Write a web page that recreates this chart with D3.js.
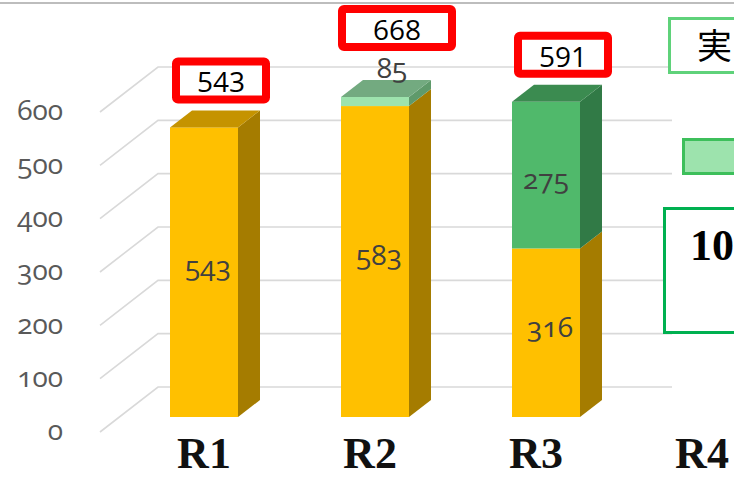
<!DOCTYPE html>
<html>
<head>
<meta charset="utf-8">
<script src="https://cdn.jsdelivr.net/npm/d3@7"></script>
<style>
  html, body { margin: 0; padding: 0; background: #fff; }
  svg { display: block; }
</style>
</head>
<body>
<div id="chart"></div>
<script>
// Chart data
const categories = ["R1", "R2", "R3", "R4"];
const baseValues = [543, 583, 316, null];   // yellow segment
const topValues = [0, 17, 275, null];       // green segment as drawn
const topLabels = [null, 85, 275, null];    // green segment label text
const totalLabels = [543, 668, 591, null];  // red annotation boxes
const yTicks = [0, 100, 200, 300, 400, 500, 600];

const width = 734, height = 478;

const svg = d3.select("#chart")
  .append("svg")
  .attr("width", width)
  .attr("height", height);

// Scales
const x = d3.scalePoint().domain(categories).range([204, 717]);
const y = d3.scaleLinear().domain([0, 600]).range([417, 97]);
// category labels sit a little off the bar centres (perspective)
const xLabel = d3.scalePoint().domain(categories).range([204, 702]);

const barW = 68;
const depth = { dx: 22, dy: -17 };      // bar depth
const wallBack = { dx: 58, dy: -45 };   // back wall offset from front floor
const wallLeft = 100;
const gridEnd = 672;

const yFront = v => y(v) + 15;
const yBack = v => y(v) - 30;

// Top frame line
svg.append("line")
  .attr("x1", 0).attr("x2", width)
  .attr("y1", 3).attr("y2", 3)
  .attr("stroke", "#bdbdbd")
  .attr("stroke-width", 2);

// Gridlines (side wall diagonal + back wall horizontal)
const grid = svg.append("g").attr("class", "grid");
grid.selectAll("path")
  .data(yTicks)
  .enter().append("path")
  .attr("d", d => `M${wallLeft},${yFront(d)} L${wallLeft + wallBack.dx},${yBack(d)} L${gridEnd},${yBack(d)}`)
  .attr("fill", "none")
  .attr("stroke", "#d9d9d9")
  .attr("stroke-width", 1.6);

// Y axis labels
svg.append("g")
  .selectAll("text")
  .data(yTicks)
  .enter().append("text")
  .attr("x", 63)
  .attr("y", d => yFront(d))
  .attr("dy", "0.3em")
  .attr("text-anchor", "end")
  .style("font-family", "'Open Sans', sans-serif")
  .style("font-variant-numeric", "oldstyle-nums")
  .style("font-size", "28px")
  .style("fill", "#595959")
  .text(d => d);

// Colors
const yellow = { front: "#FFC000", side: "#A57C00", top: "#C59300" };
const green = { front: "#50B96B", side: "#317A46", top: "#3B8B50" };
const lightGreen = { front: "#9DE3AD", side: "#5F9A6B", top: "#73AA80" };

// Build segments
const bars = svg.append("g").attr("class", "bars");

categories.forEach((cat, i) => {
  if (baseValues[i] == null) return;
  const x0 = x(cat) - barW / 2;
  const x1 = x0 + barW;
  const segs = [
    { from: 0, to: baseValues[i], c: yellow },
    { from: baseValues[i], to: baseValues[i] + topValues[i], c: topValues[i] < 50 ? lightGreen : green }
  ].filter(s => s.to > s.from);

  const g = bars.append("g");
  segs.forEach((s, k) => {
    const yb = y(s.from), yt = y(s.to);
    // front face
    g.append("rect")
      .attr("x", x0).attr("y", yt)
      .attr("width", barW).attr("height", yb - yt)
      .attr("fill", s.c.front);
    // side face
    g.append("path")
      .attr("d", `M${x1},${yb} L${x1 + depth.dx},${yb + depth.dy} L${x1 + depth.dx},${yt + depth.dy} L${x1},${yt} Z`)
      .attr("fill", s.c.side);
    // top face on last segment
    if (k === segs.length - 1) {
      g.append("path")
        .attr("d", `M${x0},${yt} L${x1},${yt} L${x1 + depth.dx},${yt + depth.dy} L${x0 + depth.dx},${yt + depth.dy} Z`)
        .attr("fill", s.c.top);
    }
  });

  const labelStyle = sel => sel
    .attr("text-anchor", "middle")
    .attr("dy", "0.35em")
    .style("font-family", "'Open Sans', sans-serif")
    .style("font-variant-numeric", "oldstyle-nums")
    .style("font-size", "28px")
    .style("fill", "#404040");

  // base label
  g.append("text")
    .attr("x", x(cat) + 4)
    .attr("y", y(baseValues[i] / 2) - 6)
    .call(labelStyle)
    .text(baseValues[i]);

  // top label (inside if room, else above the bar)
  let boxBottom = y(baseValues[i] + topValues[i]) + depth.dy - 7;
  let wide = false;
  if (topLabels[i] != null) {
    const inside = topValues[i] >= 50;
    const ly = inside
      ? y(baseValues[i] + topValues[i] / 2) + 4
      : y(baseValues[i] + topValues[i]) + depth.dy - 12;
    g.append("text")
      .attr("x", x(cat) + (inside ? 0 : 17))
      .attr("y", ly)
      .call(labelStyle)
      .text(topLabels[i]);
    if (!inside) { boxBottom = ly - 17; wide = true; }
  }

  // red total box
  const bw = barW + (wide ? 42 : 22), bh = 38;
  const bx = x(cat) + (wide ? 22 : 17);
  const box = svg.append("g").attr("class", "total-box");
  box.append("rect")
    .attr("x", bx - bw / 2).attr("y", boxBottom - bh - 4)
    .attr("width", bw).attr("height", bh)
    .attr("rx", 2)
    .attr("fill", "#fff")
    .attr("stroke", "#FF0000")
    .attr("stroke-width", 8);
  box.append("text")
    .attr("x", bx)
    .attr("y", boxBottom - bh / 2 - 2)
    .attr("dy", "0.35em")
    .attr("text-anchor", "middle")
    .style("font-family", "'Open Sans', sans-serif")
    .style("font-size", "28px")
    .style("fill", "#000")
    .text(totalLabels[i]);
});

// Category labels
svg.append("g")
  .selectAll("text")
  .data(categories)
  .enter().append("text")
  .attr("x", d => xLabel(d))
  .attr("y", 468)
  .attr("text-anchor", "middle")
  .style("font-family", "'Liberation Serif', 'Times New Roman', serif")
  .style("font-weight", "bold")
  .style("font-size", "44px")
  .style("fill", "#111")
  .text(d => d);

// Right-hand annotation boxes (cut off by the chart edge)
const side = svg.append("g").attr("class", "side-notes");
side.append("rect")
  .attr("x", 669.5).attr("y", 18.5).attr("width", 90).attr("height", 54)
  .attr("fill", "#fff").attr("stroke", "#5FD27A").attr("stroke-width", 3);
side.append("text")
  .attr("x", 697).attr("y", 59)
  .style("font-family", "'Noto Sans CJK JP', sans-serif")
  .style("font-size", "35px")
  .style("fill", "#000")
  .text("実");

side.append("rect")
  .attr("x", 683.5).attr("y", 139.5).attr("width", 80).attr("height", 34)
  .attr("fill", "#9DE3AD").attr("stroke", "#3DBF5B").attr("stroke-width", 3);

side.append("rect")
  .attr("x", 664.5).attr("y", 208.5).attr("width", 100).attr("height", 124)
  .attr("fill", "#fff").attr("stroke", "#00B050").attr("stroke-width", 3);
side.append("text")
  .attr("x", 690).attr("y", 260)
  .style("font-family", "'Liberation Serif', serif")
  .style("font-weight", "bold")
  .style("font-size", "44px")
  .style("fill", "#000")
  .text("10");
</script>
</body>
</html>
